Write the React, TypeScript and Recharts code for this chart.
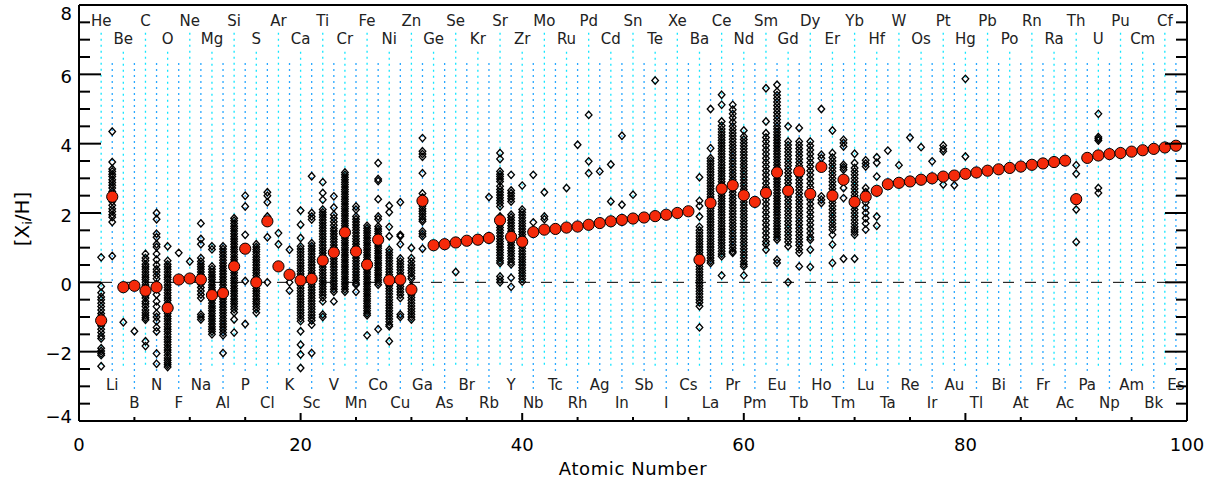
import React from "react";
import { ScatterChart, Scatter, XAxis, YAxis, ReferenceLine } from "recharts";

// element symbols, index = Z - 1
const symbols = ["H","He","Li","Be","B","C","N","O","F","Ne","Na","Mg","Al","Si","P","S","Cl","Ar","K","Ca","Sc","Ti","V","Cr","Mn","Fe","Co","Ni","Cu","Zn","Ga","Ge","As","Se","Br","Kr","Rb","Sr","Y","Zr","Nb","Mo","Tc","Ru","Rh","Pd","Ag","Cd","In","Sn","Sb","Te","I","Xe","Cs","Ba","La","Ce","Pr","Nd","Pm","Sm","Eu","Gd","Tb","Dy","Ho","Er","Tm","Yb","Lu","Hf","Ta","W","Re","Os","Ir","Pt","Au","Hg","Tl","Pb","Bi","Po","At","Rn","Fr","Ra","Ac","Th","Pa","U","Np","Pu","Am","Cm","Bk","Cf","Es"];

// mean [X/H] per element, index = Z - 1
const meanAbundance: (number | null)[] = [
  null, -1.10, 2.47, -0.14, -0.10, -0.24, -0.14, -0.74, 0.08, 0.11,
  0.08, -0.37, -0.31, 0.46, 0.97, 0.00, 1.76, 0.46, 0.22, 0.06,
  0.10, 0.63, 0.86, 1.44, 0.89, 0.51, 1.23, 0.06, 0.08, -0.21,
  2.35, 1.07, 1.10, 1.15, 1.20, 1.23, 1.28, 1.79, 1.31, 1.17,
  1.45, 1.52, 1.54, 1.58, 1.61, 1.66, 1.71, 1.76, 1.80, 1.84,
  1.87, 1.91, 1.95, 2.00, 2.05, 0.65, 2.29, 2.70, 2.80, 2.51,
  2.32, 2.58, 3.17, 2.64, 3.20, 2.55, 3.33, 2.50, 2.96, 2.32,
  2.47, 2.64, 2.83, 2.87, 2.91, 2.96, 3.00, 3.05, 3.08, 3.13,
  3.17, 3.22, 3.26, 3.30, 3.34, 3.39, 3.43, 3.47, 3.51, 2.40,
  3.59, 3.66, 3.70, 3.73, 3.77, 3.81, 3.85, 3.89, 3.94,
];

// individual star measurements [Z, values]
const starsLight: [number, number[]][] = [
  [2, [0.72, -0.12, -0.3, -0.42, -0.5, -0.6, -0.7, -0.8, -0.9, -0.98, -1.05, -1.15, -1.25, -1.35, -1.45, -1.55, -1.62, -1.9, -1.98, -2.05, -2.1, -2.42]],
  [3, [4.35, 3.47, 3.27, 3.2, 3.12, 3.05, 2.96, 2.88, 2.8, 2.72, 2.62, 2.52, 2.42, 2.33, 2.22, 2.12, 2.04, 1.95, 1.88, 1.74, 0.76]],
  [4, [-1.15]],
  [5, [-1.41]],
  [6, [0.82, 0.7, 0.62, 0.52, 0.45, 0.38, 0.3, 0.22, 0.15, 0.08, 0.0, -0.08, -0.15, -0.22, -0.3, -0.38, -0.45, -0.55, -0.62, -0.7, -0.8, -0.88, -0.95, -1.02, -1.08, -1.7, -1.84]],
  [7, [2.0, 1.82, 1.4, 1.3, 1.1, 1.02, 0.82, 0.65, 0.5, 0.38, 0.3, 0.2, 0.1, -0.05, -0.2, -0.35, -0.55, -0.7, -0.9, -1.0, -1.12, -1.3, -1.42, -2.05, -2.35]],
  [8, [1.04, 0.62, 0.52, 0.45, 0.38, 0.3, 0.22, 0.15, 0.08, 0.0, -0.08, -0.15, -0.22, -0.3, -0.38, -0.45, -0.52, -0.6, -0.68, -0.75, -0.82, -0.9, -0.98, -1.05, -1.12, -1.2, -1.28, -1.35, -1.42, -1.5, -1.58, -1.65, -1.72, -1.8, -1.88, -1.95, -2.02, -2.1, -2.18, -2.25, -2.32, -2.38, -2.44]],
  [9, [0.85]],
  [10, [0.6]],
  [11, [1.7, 1.25, 1.1, 0.7, 0.6, 0.52, 0.45, 0.38, 0.3, 0.22, 0.15, 0.05, -0.05, -0.15, -0.25, -0.35, -0.45, -0.93, -1.0, -1.07]],
  [12, [1.04, 0.95, 0.46, 0.38, 0.3, 0.22, 0.15, 0.08, 0.0, -0.08, -0.15, -0.22, -0.3, -0.38, -0.45, -0.52, -0.6, -0.68, -0.75, -0.82, -0.9, -0.98, -1.05, -1.12, -1.2, -1.28, -1.35, -1.42, -1.5]],
  [13, [1.04, 0.96, 0.88, 0.8, 0.72, 0.64, 0.56, 0.48, 0.4, 0.32, 0.24, 0.16, 0.08, 0.0, -0.08, -0.16, -0.24, -0.32, -0.4, -0.48, -0.56, -0.64, -0.72, -0.8, -0.88, -0.96, -1.04, -1.12, -1.2, -1.28, -1.36, -1.45, -1.53, -2.04]],
  [14, [1.85, 1.78, 1.7, 1.62, 1.55, 1.48, 1.4, 1.32, 1.25, 1.18, 1.1, 1.02, 0.95, 0.88, 0.8, 0.72, 0.65, 0.58, 0.5, 0.42, 0.35, 0.28, 0.2, 0.12, 0.05, -0.02, -0.1, -0.18, -0.25, -0.32, -0.4, -0.48, -0.55, -0.62, -0.7, -0.78, -0.87, -1.07, -1.45]],
  [15, [2.5, 2.19, 1.37, 0.04, -1.2]],
  [16, [1.1, 1.02, 0.95, 0.88, 0.8, 0.72, 0.65, 0.58, 0.5, 0.42, 0.35, 0.28, 0.2, 0.12, 0.05, -0.02, -0.1, -0.18, -0.25, -0.32, -0.4, -0.48, -0.55, -0.62, -0.7, -0.78, -0.88]],
  [17, [2.6, 2.5, 2.31, 1.9, 1.3, 0.0]],
  [18, [1.42, 1.1]],
  [19, [0.94, 0.0, -0.24]],
  [20, [2.07, 1.66, 1.28, 1.04, 0.96, 0.88, 0.8, 0.72, 0.64, 0.56, 0.48, 0.4, 0.32, 0.24, 0.16, 0.08, 0.0, -0.08, -0.16, -0.24, -0.32, -0.4, -0.48, -0.56, -0.64, -0.72, -0.8, -0.88, -0.96, -1.04, -1.12, -1.41, -1.8, -2.08, -2.47]],
  [21, [3.06, 2.0, 1.9, 1.81, 1.13, 1.05, 0.97, 0.9, 0.82, 0.74, 0.66, 0.58, 0.5, 0.42, 0.34, 0.26, 0.18, 0.1, 0.02, -0.06, -0.14, -0.22, -0.3, -0.38, -0.46, -0.54, -0.62, -0.7, -0.78, -0.86, -0.94, -1.02, -1.1, -1.22, -2.04]],
  [22, [2.89, 2.58, 2.38, 2.1, 2.02, 1.95, 1.88, 1.8, 1.72, 1.64, 1.56, 1.48, 1.4, 1.32, 1.24, 1.16, 1.08, 1.0, 0.92, 0.84, 0.76, 0.68, 0.6, 0.52, 0.44, 0.36, 0.28, 0.2, 0.12, 0.04, -0.04, -0.12, -0.2, -0.28, -0.36, -0.44, -0.55, -0.93, -1.0]],
  [23, [2.48, 2.16, 1.95, 1.85, 1.75, 1.65, 1.55, 1.48, 1.4, 1.32, 1.24, 1.16, 1.08, 1.0, 0.92, 0.84, 0.76, 0.68, 0.6, 0.52, 0.44, 0.36, 0.28, 0.2, 0.12, 0.04, -0.04, -0.12, -0.2, -0.27, -0.55]],
  [24, [3.17, 3.1, 3.03, 2.96, 2.89, 2.82, 2.75, 2.68, 2.61, 2.54, 2.47, 2.4, 2.33, 2.26, 2.19, 2.12, 2.05, 1.98, 1.91, 1.84, 1.77, 1.7, 1.63, 1.56, 1.49, 1.42, 1.35, 1.28, 1.21, 1.14, 1.07, 1.0, 0.93, 0.86, 0.79, 0.72, 0.65, 0.58, 0.51, 0.44, 0.37, 0.3, 0.23, 0.16, 0.09, 0.02, -0.05, -0.12, -0.2, -0.27]],
  [25, [2.19, 2.1, 1.9, 1.82, 1.74, 1.66, 1.58, 1.5, 1.42, 1.34, 1.26, 1.18, 1.1, 1.02, 0.94, 0.86, 0.78, 0.7, 0.62, 0.54, 0.46, 0.38, 0.3, 0.22, 0.14, 0.06, -0.02, -0.07, -0.27]],
  [26, [1.63, 1.56, 1.49, 1.42, 1.35, 1.28, 1.21, 1.14, 1.07, 1.0, 0.93, 0.86, 0.79, 0.72, 0.65, 0.58, 0.51, 0.44, 0.37, 0.3, 0.23, 0.16, 0.09, 0.02, -0.05, -0.12, -0.19, -0.26, -0.33, -0.4, -0.47, -0.54, -0.61, -0.68, -0.75, -0.82, -0.89, -0.95, -1.53]],
  [27, [3.44, 2.98, 2.92, 2.4, 1.9, 1.82, 1.61, 1.54, 1.47, 1.4, 1.33, 1.26, 1.19, 1.12, 1.05, 0.98, 0.91, 0.84, 0.77, 0.7, 0.63, 0.56, 0.49, 0.42, 0.35, 0.28, 0.21, 0.14, 0.07, 0.0, -0.07, -1.35]],
  [28, [2.21, 2.02, 1.6, 1.33, 0.94, 0.86, 0.78, 0.7, 0.62, 0.54, 0.46, 0.38, 0.3, 0.22, 0.14, 0.06, -0.02, -0.1, -0.18, -0.26, -0.34, -0.42, -0.5, -0.58, -0.66, -0.74, -0.82, -0.9, -0.98, -1.06, -1.14, -1.22, -1.27, -1.7]],
  [29, [2.31, 1.37, 1.33, 1.1, 0.69, 0.6, 0.52, 0.44, 0.36, 0.28, 0.2, 0.12, 0.04, -0.04, -0.12, -0.2, -0.28, -0.36, -0.45, -0.93, -1.0]],
  [30, [0.99, 0.7, 0.6, 0.5, 0.42, 0.34, 0.26, 0.17, 0.1, -0.12, -0.2, -0.28, -0.36, -0.44, -0.52, -0.6, -0.68, -0.76, -0.84, -0.92, -1.0, -1.07]],
];

const starsMiddle: [number, number[]][] = [
  [31, [4.16, 3.78, 3.7, 3.62, 3.15, 2.56, 2.45, 2.2, 2.12, 2.05, 1.98, 1.9, 1.82, 1.76, 1.47, 1.4, 1.33, 0.97]],
  [34, [0.3]],
  [37, [2.46]],
  [38, [3.73, 3.56, 3.2, 3.12, 3.05, 2.98, 2.91, 2.77, 2.68, 2.6, 2.52, 2.44, 2.36, 2.28, 2.19, 1.9, 1.82, 1.74, 1.66, 1.58, 1.5, 1.42, 1.34, 1.26, 1.18, 1.1, 1.02, 0.94, 0.86, 0.78, 0.7, 0.62, 0.56, 0.17, 0.08, 0.0]],
  [39, [3.1, 2.65, 2.57, 2.49, 2.41, 2.33, 1.95, 1.87, 1.79, 1.71, 1.63, 1.55, 1.47, 1.39, 1.31, 1.23, 1.15, 1.07, 0.99, 0.91, 0.83, 0.75, 0.67, 0.59, 0.52, 0.13, -0.13]],
  [40, [2.79, 2.1, 2.02, 1.94, 1.86, 1.78, 1.7, 1.62, 1.54, 1.46, 1.38, 1.3, 1.22, 1.14, 1.06, 0.98, 0.9, 0.82, 0.74, 0.66, 0.58, 0.5, 0.42, 0.34, 0.26, 0.18, 0.1, 0.02]],
  [41, [3.1, 1.73]],
  [42, [2.6, 1.9, 1.82]],
  [44, [2.72]],
  [45, [3.97]],
  [46, [4.83, 3.49, 3.15]],
  [47, [3.2]],
  [48, [3.4, 2.33]],
  [49, [4.23, 2.24]],
  [50, [2.53]],
  [52, [5.82]],
  [56, [3.03, 2.35, 2.2, 1.9, 1.6, 1.5, 1.42, 1.34, 1.26, 1.18, 1.1, 1.02, 0.94, 0.86, 0.78, 0.7, 0.62, 0.54, 0.46, 0.38, 0.3, 0.22, 0.14, 0.06, -0.02, -0.1, -0.18, -0.26, -0.34, -0.42, -0.5, -0.58, -0.69, -1.3]],
];

const starsHeavy: [number, number[]][] = [
  [57, [5.0, 3.87, 3.58, 3.5, 3.42, 3.34, 3.26, 3.18, 3.1, 3.02, 2.94, 2.86, 2.78, 2.7, 2.62, 2.54, 2.46, 2.38, 2.3, 2.22, 2.14, 2.06, 1.98, 1.9, 1.82, 1.74, 1.66, 1.58, 1.5, 1.42, 1.34, 1.26, 1.18, 1.1, 1.02, 0.94, 0.86, 0.78, 0.7, 0.62, 0.56]],
  [58, [5.41, 5.12, 4.64, 4.52, 4.42, 4.34, 4.26, 4.18, 4.1, 4.02, 3.94, 3.86, 3.78, 3.7, 3.62, 3.54, 3.46, 3.38, 3.3, 3.22, 3.14, 3.06, 2.98, 2.9, 2.82, 2.74, 2.66, 2.58, 2.5, 2.42, 2.34, 2.26, 2.18, 2.1, 2.02, 1.94, 1.86, 1.78, 1.7, 1.62, 1.54, 1.46, 1.38, 1.3, 1.22, 1.14, 1.06, 0.98, 0.9, 0.82, 0.75, 0.2]],
  [59, [5.12, 4.98, 4.86, 4.75, 4.62, 4.5, 4.4, 4.31, 4.22, 4.13, 4.04, 3.95, 3.86, 3.77, 3.68, 3.59, 3.5, 3.41, 3.32, 3.23, 3.14, 3.05, 2.96, 2.87, 2.78, 2.69, 2.6, 2.51, 2.42, 2.33, 2.24, 2.15, 2.06, 1.97, 1.88, 1.79, 1.7, 1.61, 1.52, 1.43, 1.34, 1.25, 1.16, 1.07, 0.98, 0.9, 0.85]],
  [60, [4.38, 4.21, 4.12, 4.03, 3.94, 3.85, 3.76, 3.67, 3.58, 3.49, 3.4, 3.31, 3.22, 3.13, 3.04, 2.95, 2.86, 2.77, 2.68, 2.59, 2.5, 2.41, 2.32, 2.23, 2.14, 2.05, 1.96, 1.87, 1.78, 1.69, 1.6, 1.51, 1.42, 1.33, 1.24, 1.15, 1.06, 0.97, 0.88, 0.79, 0.7, 0.6, 0.52, 0.46, 0.2]],
  [62, [5.6, 4.64, 4.3, 4.18, 4.06, 3.94, 3.82, 3.7, 3.58, 3.46, 3.34, 3.22, 3.1, 2.98, 2.86, 2.74, 2.62, 2.5, 2.38, 2.26, 2.14, 2.02, 1.9, 1.78, 1.66, 1.54, 1.42, 1.3, 1.18, 1.09, 0.94]],
  [63, [5.7, 5.5, 5.4, 5.3, 5.2, 5.1, 5.0, 4.9, 4.8, 4.7, 4.6, 4.5, 4.42, 4.34, 4.26, 4.18, 4.1, 4.02, 3.94, 3.86, 3.78, 3.7, 3.62, 3.54, 3.46, 3.38, 3.3, 3.22, 3.14, 3.06, 2.98, 2.9, 2.82, 2.74, 2.66, 2.58, 2.5, 2.42, 2.34, 2.26, 2.18, 2.1, 2.02, 1.94, 1.86, 1.78, 1.7, 1.62, 1.54, 1.46, 1.38, 1.3, 1.23, 0.65, 0.56]],
  [64, [4.5, 4.06, 3.96, 3.86, 3.76, 3.66, 3.56, 3.46, 3.36, 3.26, 3.16, 3.06, 2.96, 2.86, 2.76, 2.66, 2.56, 2.46, 2.36, 2.26, 2.16, 2.06, 1.96, 1.86, 1.76, 1.66, 1.56, 1.46, 1.36, 1.26, 1.16, 1.04, 0.0]],
  [65, [4.45, 4.06, 3.96, 3.86, 3.76, 3.66, 3.56, 3.46, 3.36, 3.26, 3.16, 3.06, 2.96, 2.86, 2.76, 2.66, 2.56, 2.46, 2.36, 2.26, 2.16, 2.06, 1.96, 1.86, 1.76, 1.66, 1.56, 1.46, 1.36, 1.26, 1.16, 1.07, 0.95, 0.85, 0.46]],
  [66, [4.06, 3.94, 3.82, 3.7, 3.58, 3.46, 3.34, 3.22, 3.1, 2.98, 2.86, 2.74, 2.62, 2.5, 2.38, 2.26, 2.14, 2.02, 1.9, 1.78, 1.66, 1.54, 1.42, 1.3, 1.23, 0.94, 0.44]],
  [67, [5.0, 3.68, 3.58, 2.48, 2.38, 2.29]],
  [68, [4.38, 3.73, 3.6, 3.5, 3.4, 3.3, 3.2, 3.1, 3.0, 2.9, 2.8, 2.7, 2.6, 2.5, 2.4, 2.3, 2.2, 2.1, 2.0, 1.9, 1.8, 1.7, 1.6, 1.52, 1.37, 1.09, 0.56]],
  [69, [4.11, 4.02, 3.92, 3.39, 3.32, 3.25, 2.72, 2.43, 0.68]],
  [70, [3.71, 3.44, 3.3, 3.2, 3.1, 3.0, 2.9, 2.8, 2.7, 2.6, 2.5, 2.4, 2.3, 2.2, 2.1, 2.0, 1.9, 1.8, 1.7, 1.6, 1.52, 1.45, 1.37, 0.68]],
  [71, [3.52, 3.43, 3.34, 2.72, 2.6, 2.45, 2.3, 2.15, 2.0, 1.85, 1.7, 1.52]],
  [72, [3.61, 3.45, 3.05, 2.6, 1.9, 1.63]],
  [73, [3.8]],
  [74, [3.38]],
  [75, [4.18]],
  [76, [3.9]],
  [77, [3.49]],
  [78, [3.95, 3.85, 3.78, 2.82]],
  [79, [2.8]],
  [80, [5.87, 3.63]],
  [90, [3.38, 3.13, 2.1, 1.16]],
  [92, [4.86, 4.19, 4.14, 4.09, 2.72, 2.58]],
];

const xTicks = [0, 5, 10, 15, 20, 25, 30, 35, 40, 45, 50, 55, 60, 65, 70, 75, 80, 85, 90, 95, 100];
const xMajor = [0, 20, 40, 60, 80, 100];
const yTicks = [-4, -3.5, -3, -2.5, -2, -1.5, -1, -0.5, 0, 0.5, 1, 1.5, 2, 2.5, 3, 3.5, 4, 4.5, 5, 5.5, 6, 6.5, 7, 7.5, 8];
const yMajor = [-4, -2, 0, 2, 4, 6, 8];

const FONT = "DejaVu Sans";

const stars = [...starsLight, ...starsMiddle, ...starsHeavy].flatMap(([z, vals]) =>
  vals.map((v) => ({ x: z, y: v }))
);
const means = meanAbundance
  .map((v, i) => ({ x: i + 1, y: v }))
  .filter((d) => d.y !== null);

// label rows: Z%4 == 2 top, 0 second, 3 lower, 1 lowest
const labelRow = (z: number) => [7.02, -3.47, 7.55, -2.95][z % 4];
const labels = symbols
  .map((s, i) => ({ x: i + 1, y: labelRow(i + 1), sym: s }))
  .filter((d) => d.x >= 2);

const guideTop = (z: number) => [6.65, 6.33, 7.2, 6.33][z % 4];
const guideBottom = (z: number) => [-2.45, -3.15, -2.45, -2.65][z % 4];

const fmt = (v: number) => (v < 0 ? `\u2212${-v}` : `${v}`);

const Diamond = (p: any) => {
  const { cx, cy } = p;
  return (
    <path
      d={`M${cx},${cy - 3.7}L${cx + 3.3},${cy}L${cx},${cy + 3.7}L${cx - 3.3},${cy}Z`}
      fill="none"
      stroke="#000"
      strokeWidth={1.35}
    />
  );
};

const MeanDot = (p: any) => <circle cx={p.cx} cy={p.cy} r={5.6} fill="#f52a0a" stroke="#000" strokeWidth={1} />;

const SymbolLabel = (p: any) => (
  <text x={p.cx} y={p.cy} textAnchor="middle" dominantBaseline="central" fontSize={15} fontFamily={FONT} fill="#222">
    {p.payload.sym}
  </text>
);

const BottomTick = (p: any) => {
  const v = p.payload.value;
  const major = xMajor.includes(v);
  return (
    <g>
      <line x1={p.x} x2={p.x} y1={p.y} y2={p.y - (major ? 8 : 4)} stroke="#000" strokeWidth={2} />
      {major && (
        <text x={p.x} y={p.y + 23} textAnchor="middle" dominantBaseline="central" fontSize={18} fontFamily={FONT} fill="#000">
          {fmt(v)}
        </text>
      )}
    </g>
  );
};

const TopTick = (p: any) => {
  const major = xMajor.includes(p.payload.value);
  return <line x1={p.x} x2={p.x} y1={p.y} y2={p.y + (major ? 8 : 4)} stroke="#000" strokeWidth={2} />;
};

const LeftTick = (p: any) => {
  const v = p.payload.value;
  const major = yMajor.includes(v);
  const ly = Math.min(Math.max(p.y + 2, 13), 416);
  return (
    <g>
      <line x1={p.x} x2={p.x + (major ? 22 : 11)} y1={p.y} y2={p.y} stroke="#000" strokeWidth={2} />
      {major && (
        <text x={p.x - 7} y={ly} textAnchor="end" dominantBaseline="central" fontSize={18} fontFamily={FONT} fill="#000">
          {fmt(v)}
        </text>
      )}
    </g>
  );
};

const RightTick = (p: any) => {
  const major = yMajor.includes(p.payload.value);
  return <line x1={p.x} x2={p.x - (major ? 22 : 11)} y1={p.y} y2={p.y} stroke="#000" strokeWidth={2} />;
};

const XTitle = (p: any) => {
  const vb = p.viewBox;
  return (
    <text x={vb.x + vb.width / 2} y={vb.y + 47} textAnchor="middle" dominantBaseline="central" fontSize={18} letterSpacing={0.6} fontFamily={FONT} fill="#000">
      Atomic Number
    </text>
  );
};

const YTitle = (p: any) => {
  const vb = p.viewBox;
  const cx = vb.x + 22;
  const cy = vb.y + vb.height / 2 + 6;
  return (
    <text transform={`translate(${cx},${cy}) rotate(-90)`} textAnchor="middle" dominantBaseline="central" fontSize={20} fontFamily={FONT} fill="#000">
      [X<tspan fontSize={13} dy={5}>i</tspan>
      <tspan dy={-5}>/H]</tspan>
    </text>
  );
};

const axisLine = { stroke: "#000", strokeWidth: 2 };

export default function App() {
  return (
    <div style={{ position: "absolute", left: 0, top: 0, background: "#fff" }}>
      <ScatterChart width={1214} height={481} margin={{ top: 0, right: 0, bottom: 0, left: 0 }}>
        <XAxis
          type="number"
          dataKey="x"
          domain={[0, 100]}
          ticks={xTicks}
          interval={0}
          allowDataOverflow
          height={60}
          tickSize={0}
          tickMargin={0}
          axisLine={axisLine}
          tick={BottomTick}
          label={{ content: XTitle }}
        />
        <XAxis
          xAxisId="top"
          orientation="top"
          type="number"
          domain={[0, 100]}
          ticks={xTicks}
          interval={0}
          allowDataOverflow
          height={5}
          tickSize={0}
          tickMargin={0}
          axisLine={axisLine}
          tick={TopTick}
        />
        <YAxis
          type="number"
          dataKey="y"
          domain={[-4, 8]}
          ticks={yTicks}
          interval={0}
          allowDataOverflow
          width={79}
          tickSize={0}
          tickMargin={0}
          axisLine={axisLine}
          tick={LeftTick}
          label={{ content: YTitle }}
        />
        <YAxis
          yAxisId="right"
          orientation="right"
          type="number"
          domain={[-4, 8]}
          ticks={yTicks}
          interval={0}
          allowDataOverflow
          width={27}
          tickSize={0}
          tickMargin={0}
          axisLine={axisLine}
          tick={RightTick}
        />
        {labels.map((d) => (
          <ReferenceLine
            key={`g${d.x}`}
            segment={[
              { x: d.x, y: guideTop(d.x) },
              { x: d.x, y: guideBottom(d.x) },
            ]}
            stroke={d.x % 2 === 0 ? "#14e6ff" : "#2aa8ff"}
            strokeWidth={1.3}
            strokeDasharray="2 4"
          />
        ))}
        <ReferenceLine y={0} stroke="#000" strokeWidth={1} strokeDasharray="11 11" />
        <Scatter data={labels} shape={SymbolLabel} isAnimationActive={false} />
        <Scatter data={stars} shape={Diamond} isAnimationActive={false} />
        <Scatter data={means} shape={MeanDot} isAnimationActive={false} />
      </ScatterChart>
    </div>
  );
}
